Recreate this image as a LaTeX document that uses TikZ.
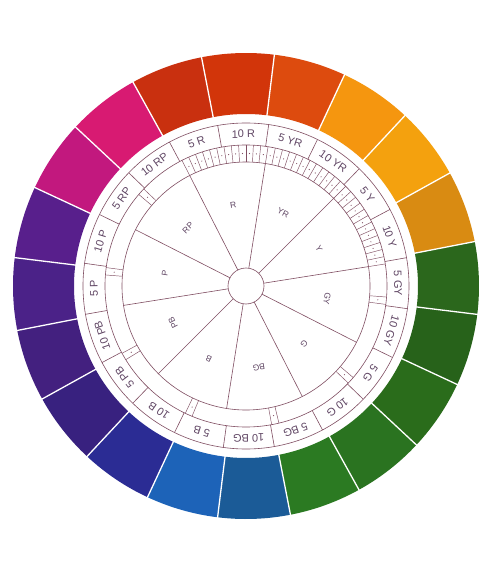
\documentclass[tikz,border=0pt]{standalone}
\usepackage{fontspec}
\setmainfont{Liberation Sans}
\definecolor{chartline}{RGB}{128, 78, 98}
\definecolor{charttext}{RGB}{96, 70, 100}
% hue segments, counter-clockwise from 10R
\definecolor{segA}{RGB}{210, 53, 10}
\definecolor{segB}{RGB}{201, 48, 15}
\definecolor{segC}{RGB}{216, 26, 114}
\definecolor{segD}{RGB}{194, 24, 126}
\definecolor{segE}{RGB}{88, 31, 140}
\definecolor{segF}{RGB}{75, 34, 136}
\definecolor{segG}{RGB}{67, 32, 127}
\definecolor{segH}{RGB}{56, 33, 127}
\definecolor{segI}{RGB}{43, 44, 148}
\definecolor{segJ}{RGB}{29, 99, 184}
\definecolor{segK}{RGB}{27, 91, 151}
\definecolor{segL}{RGB}{43, 122, 34}
\definecolor{segM}{RGB}{42, 115, 32}
\definecolor{segN}{RGB}{42, 108, 27}
\definecolor{segO}{RGB}{39, 98, 26}
\definecolor{segP}{RGB}{43, 103, 28}
\definecolor{segQ}{RGB}{217, 139, 18}
\definecolor{segR}{RGB}{244, 161, 14}
\definecolor{segS}{RGB}{245, 150, 15}
\definecolor{segT}{RGB}{221, 75, 14}
\usetikzlibrary{calc}

\begin{document}
\begin{tikzpicture}[x=1pt, y=1pt,
        lab/.style={font=\fontsize{11}{11}\selectfont, text=charttext, inner sep=0pt},
        hue/.style={font=\fontsize{8.5}{8.5}\selectfont, text=charttext, inner sep=0pt},
        rule/.style={draw=chartline, line width=0.6pt}]
        \useasboundingbox[fill=white] (-246,-276) rectangle (247,286);

        % Coloured ring
        \foreach \i/\col in {0/segA, 1/segB, 2/segC, 3/segD, 4/segE, 5/segF, 6/segG, 7/segH, 8/segI, 9/segJ,
                             10/segK, 11/segL, 12/segM, 13/segN, 14/segO, 15/segP, 16/segQ, 17/segR, 18/segS, 19/segT} {
            \fill[\col] ({83+18*\i}:172) arc[start angle={83+18*\i}, end angle={101+18*\i}, radius=172]
                -- ({101+18*\i}:233) arc[start angle={101+18*\i}, end angle={83+18*\i}, radius=233] -- cycle;
        }
        \foreach \i in {0,...,19} {
            \draw[white, line width=1.3pt] ({83+18*\i}:171) -- ({83+18*\i}:234);
        }

        % Label ring
        \draw[rule] (0,0) circle[radius=163];
        \draw[rule] (0,0) circle[radius=141];
        \draw[rule] (0,0) circle[radius=124];
        \foreach \i in {0,...,19} {
            \draw[rule] ({82+18*\i}:141) -- ({82+18*\i}:163);
        }
        \foreach \i/\txt in {0/10 R, 1/5 R, 2/10 RP, 3/5 RP, 4/10 P, 5/5 P, 6/10 PB, 7/5 PB, 8/10 B, 9/5 B,
                             10/10 BG, 11/5 BG, 12/10 G, 13/5 G, 14/10 GY, 15/5 GY, 16/10 Y, 17/5 Y, 18/10 YR, 19/5 YR} {
            \node[lab, rotate={1+18*\i}] (lab\i) at ({91+18*\i}:152) {\txt};
        }

        % Scale band
        \foreach \a in {9,12,...,117} {
            \draw[rule, line width=0.45pt] (\a:124) -- (\a:141);
        }
        \foreach \a in {10.5,13.5,...,115.5} {
            \fill[chartline] (\a:132.5) circle[radius=0.6];
        }
        \foreach \a in {138,174,210,246,282,318,354} {
            \draw[rule, line width=0.45pt] ({\a-1.5}:124) -- ({\a-1.5}:141) ({\a+1.5}:124) -- ({\a+1.5}:141);
            \fill[chartline] (\a:132.5) circle[radius=0.6];
        }

        % Hue sectors
        \foreach \i in {0,...,9} {
            \draw[rule] ({81+36*\i}:18) -- ({81+36*\i}:124);
        }
        \draw[rule, fill=white] (0,0) circle[radius=18];
        \foreach \i/\txt in {0/R, 1/RP, 2/P, 3/PB, 4/B, 5/BG, 6/G, 7/GY, 8/Y, 9/YR} {
            \node[hue, rotate={9+36*\i}] (hue\i) at ({99+36*\i}:82) {\txt};
        }
    \end{tikzpicture}
\end{document}
